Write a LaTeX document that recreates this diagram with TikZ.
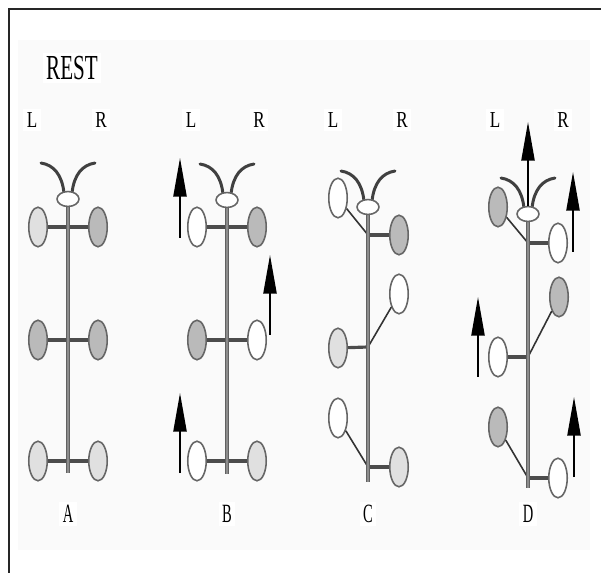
\documentclass[tikz,border=0pt]{standalone}
\usepackage{fontspec}
\setmainfont{Liberation Serif}
\usetikzlibrary{shapes.geometric,arrows.meta,positioning}

\begin{document}
\begin{tikzpicture}[x=0.02cm,y=-0.02cm,
	oval/.style={ellipse,draw=black!60,line width=0.9pt,minimum width=10.5pt,minimum height=22.5pt,inner sep=0pt},
	lt/.style={oval,fill=black!12},
	dk/.style={oval,fill=black!27},
	wt/.style={oval,fill=white},
	head/.style={ellipse,draw=black!60,line width=0.9pt,fill=white,minimum width=12.5pt,minimum height=8.5pt,inner sep=0pt},
	feeler/.style={draw=black!75,line width=1.7pt,line cap=round},
	spine/.style={draw=black!62,line width=2.8pt,postaction={draw=black!45,line width=1pt}},
	bar/.style={draw=black!70,line width=1.8pt},
	leg/.style={draw=black!80,line width=0.9pt},
	push/.style={draw=black,line width=1pt,-{Triangle[length=22pt,width=7.5pt]}},
	lbl/.style={fill=white,inner sep=2pt}]
\useasboundingbox (0,0) rectangle (601,573);
\fill[black!2] (18,40) rectangle (590,550);
\coordinate (f0) at (9,573);
\coordinate (f1) at (9,9);
\coordinate (f2) at (601,9);
\draw[line width=1.1pt,black!85] (f0) -- (f1) -- (f2);

% straight legs
\foreach \p/\sx/\fa/\fb/\fc/\fd/\fe/\ff in {A/68/lt/dk/dk/dk/lt/lt, B/227/wt/dk/dk/wt/wt/lt} {
	\node[\fa] (l\p1) at (\sx-30,227) {};
	\node[\fb] (r\p1) at (\sx+30,227) {};
	\node[\fc] (l\p2) at (\sx-30,340) {};
	\node[\fd] (r\p2) at (\sx+30,340) {};
	\node[\fe] (l\p3) at (\sx-30,461) {};
	\node[\ff] (r\p3) at (\sx+30,461) {};
	\foreach \r in {1,2,3}
		\draw[bar] (l\p\r) -- (r\p\r);
}

% lifted legs
\node[wt] (lC1) at (338,198) {};
\node[dk] (rC1) at (399,235) {};
\node[wt] (rC2) at (399,294) {};
\node[lt] (lC2) at (338,348) {};
\node[wt] (lC3) at (338,418) {};
\node[lt] (rC3) at (399,467) {};
\coordinate (jC1) at (368,235);
\coordinate (jC2) at (368,347);
\coordinate (jC3) at (368,467);
\draw[leg] (lC1) -- (jC1);
\draw[bar] (jC1) -- (rC1);
\draw[leg] (rC2) -- (jC2);
\draw[bar] (jC2) -- (lC2);
\draw[leg] (lC3) -- (jC3);
\draw[bar] (jC3) -- (rC3);

\node[dk] (lD1) at (498,207) {};
\node[wt] (rD1) at (558,243) {};
\node[dk] (rD2) at (559,297) {};
\node[wt] (lD2) at (498,357) {};
\node[dk] (lD3) at (498,427) {};
\node[wt] (rD3) at (558,478) {};
\coordinate (jD1) at (528,243);
\coordinate (jD2) at (528,357);
\coordinate (jD3) at (528,478);
\draw[leg] (lD1) -- (jD1);
\draw[bar] (jD1) -- (rD1);
\draw[leg] (rD2) -- (jD2);
\draw[bar] (jD2) -- (lD2);
\draw[leg] (lD3) -- (jD3);
\draw[bar] (jD3) -- (rD3);

% heads and bodies
\foreach \p/\hx/\hy/\ey in {A/68/199/473, B/227/200/474, C/368/207/482, D/528/214/488} {
	\draw[feeler] (\hx-4,\hy-6) .. controls (\hx-6,\hy-24) and (\hx-14,\hy-34) .. (\hx-27,\hy-36);
	\draw[feeler] (\hx+4,\hy-6) .. controls (\hx+6,\hy-24) and (\hx+14,\hy-34) .. (\hx+27,\hy-36);
	\coordinate (e\p) at (\hx,\ey);
	\draw[spine] (\hx,\hy) -- (e\p);
	\node[head] (h\p) at (\hx,\hy) {};
}

% stepping arrows
\foreach \n/\ax/\ay/\by in {B1/180/238/158, B2/270/335/255, B3/180/473/393, D1/573/252/172, D2/478/377/297, D3/574/477/397} {
	\coordinate (t\n) at (\ax,\ay);
	\coordinate (k\n) at (\ax,\by);
	\draw[push] (t\n) -- (k\n);
}
\coordinate (kD0) at (528,122);
\draw[push] (hD.north) -- (kD0);

% labels
\node[lbl,font=\fontsize{20}{22}\selectfont] (rest) at (72,68) {\scalebox{0.6}[1]{REST}};
\foreach \p/\lx/\rx/\sx in {A/32/101/68, B/191/259/227, C/333/402/368, D/495/563/528} {
	\node[lbl,font=\fontsize{13}{15}\selectfont] (L\p) at (\lx,120) {\scalebox{0.75}[1]{L}};
	\node[lbl,font=\fontsize{13}{15}\selectfont] (R\p) at (\rx,120) {\scalebox{0.75}[1]{R}};
	\node[lbl,font=\fontsize{15}{17}\selectfont] (n\p) at (\sx,514) {\scalebox{0.55}[1]{\p}};
}
\end{tikzpicture}
\end{document}
